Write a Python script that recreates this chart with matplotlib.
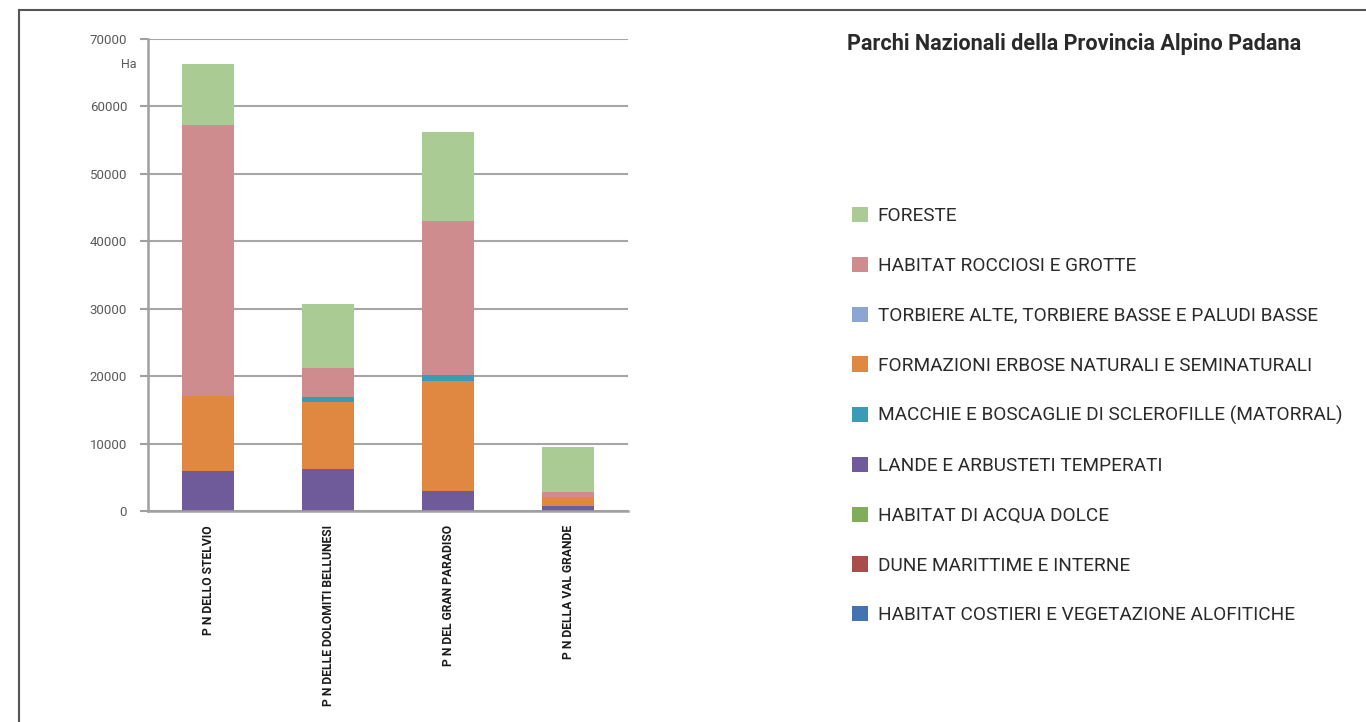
import matplotlib
matplotlib.use("Agg")
import matplotlib.pyplot as plt
from matplotlib.lines import Line2D
from matplotlib.patches import Patch
import numpy as np

parks = ["P N DELLO STELVIO", "P N DELLE DOLOMITI BELLUNESI",
         "P N DEL GRAN PARADISO", "P N DELLA VAL GRANDE"]

# stacking order bottom -> top
lande = [5900, 6200, 3000, 700]
formazioni = [11100, 10000, 16300, 1400]
macchie = [0, 700, 900, 0]
torbiere = [0, 0, 0, 0]
rocciosi = [40200, 4300, 22800, 700]
foreste = [9100, 9500, 13200, 6700]
acqua_dolce = [0, 0, 0, 0]
dune = [0, 0, 0, 0]
costieri = [0, 0, 0, 0]

yticks = [0, 10000, 20000, 30000, 40000, 50000, 60000, 70000]

series = [
    ("HABITAT COSTIERI E VEGETAZIONE ALOFITICHE", costieri, "#4373B1"),
    ("DUNE MARITTIME E INTERNE", dune, "#A84D4A"),
    ("HABITAT DI ACQUA DOLCE", acqua_dolce, "#81AC5A"),
    ("LANDE E ARBUSTETI TEMPERATI", lande, "#705B9A"),
    ("FORMAZIONI ERBOSE NATURALI E SEMINATURALI", formazioni, "#E08741"),
    ("MACCHIE E BOSCAGLIE DI SCLEROFILLE (MATORRAL)", macchie, "#399BB5"),
    ("TORBIERE ALTE, TORBIERE BASSE E PALUDI BASSE", torbiere, "#8CA5D2"),
    ("HABITAT ROCCIOSI E GROTTE", rocciosi, "#CF8C8E"),
    ("FORESTE", foreste, "#ABCB94"),
]
legend_order = ["FORESTE", "HABITAT ROCCIOSI E GROTTE",
                "TORBIERE ALTE, TORBIERE BASSE E PALUDI BASSE",
                "FORMAZIONI ERBOSE NATURALI E SEMINATURALI",
                "MACCHIE E BOSCAGLIE DI SCLEROFILLE (MATORRAL)",
                "LANDE E ARBUSTETI TEMPERATI", "HABITAT DI ACQUA DOLCE",
                "DUNE MARITTIME E INTERNE",
                "HABITAT COSTIERI E VEGETAZIONE ALOFITICHE"]

FONT = "Roboto"
fig = plt.figure(figsize=(13.66, 7.22), dpi=100)
ax = fig.add_axes([148/1366, 1-511/722, 480/1366, 472/722])

x = np.arange(len(parks))
bottom = np.zeros(len(parks))
colors = {}
for name, vals, col in series:
    v = np.array(vals, dtype=float)
    ax.bar(x, v, bottom=bottom, width=0.43, color=col, edgecolor="none", zorder=3)
    bottom += v
    colors[name] = col

ax.set_xlim(-0.5, len(parks) - 0.5)
ax.set_ylim(0, 70000)
ax.set_yticks(yticks)
ax.set_yticklabels([str(t) for t in yticks], fontsize=9.5, color="#595959", family=FONT)
ax.set_xticks(x)
ax.set_xticklabels(parks, rotation=90, fontsize=8.7, fontweight="bold",
                   family=FONT, color="#1a1a1a")
ax.tick_params(axis="x", length=0, pad=10)
ax.tick_params(axis="y", length=6, width=1.5, color="#A0A0A0", pad=9)
ax.grid(axis="y", color="#A6A6A6", linewidth=1.5, zorder=0)
for s in ["top", "right"]:
    ax.spines[s].set_visible(False)
ax.spines["left"].set_color("#A0A0A0")
ax.spines["left"].set_linewidth(1.8)
ax.spines["bottom"].set_color("#A0A0A0")
ax.spines["bottom"].set_linewidth(1.8)
ax.spines["bottom"].set_zorder(4)

fig.text(137/1366, 1-64/722, "Ha", fontsize=9, color="#595959", family=FONT,
         ha="right", va="center")

fig.text(847/1366, 1-44/722, "Parchi Nazionali della Provincia Alpino Padana",
         fontsize=15.6, fontweight="bold", color="#2a2a2a", family=FONT,
         ha="left", va="center")

handles = [Patch(facecolor=colors[n], edgecolor="none") for n in legend_order]
fig.legend(handles, legend_order, loc="upper left",
           bbox_to_anchor=(835/1366, 1-190/722), frameon=False,
           prop={"family": FONT, "size": 13.7}, labelcolor="#2a2a2a",
           handlelength=0.85, handleheight=0.85, handletextpad=0.5,
           labelspacing=1.66)

# frame lines
fig.add_artist(Line2D([19/1366, 1], [1-10/722, 1-10/722], color="#555555", lw=1.5,
                      transform=fig.transFigure))
fig.add_artist(Line2D([19/1366, 19/1366], [0, 1-10/722], color="#555555", lw=1.5,
                      transform=fig.transFigure))

fig.savefig("out.png", dpi=100)
